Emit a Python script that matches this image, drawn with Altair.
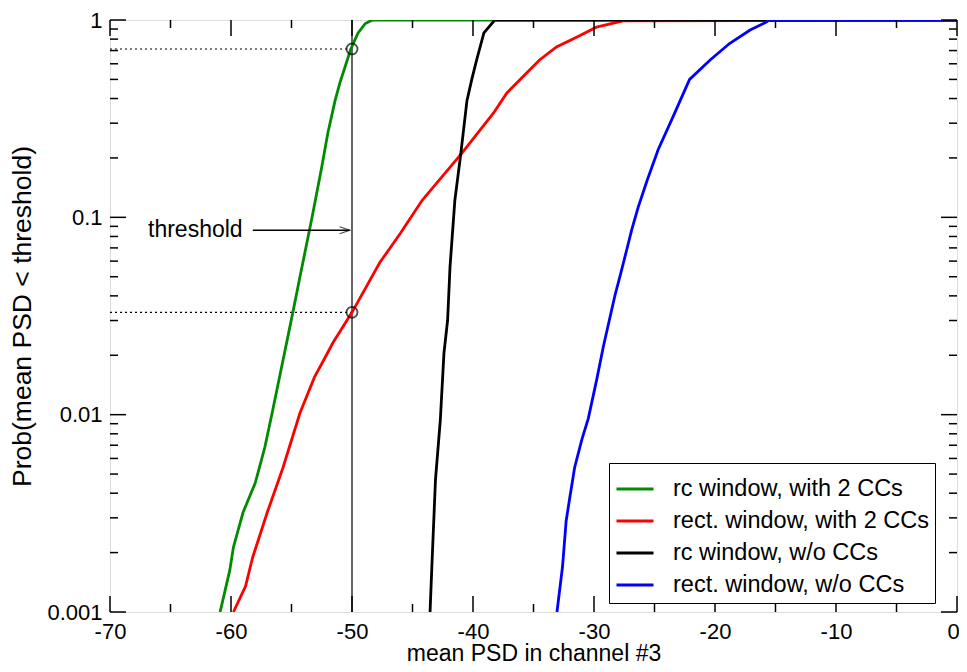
import altair as alt
import pandas as pd

# ---------------- data ----------------
series_names = ["rc window, with 2 CCs", "rect. window, with 2 CCs",
                "rc window, w/o CCs", "rect. window, w/o CCs"]
series_colors = ["#008b00", "#ff0000", "#000000", "#0000ff"]

green_x = [-60.9, -60.1, -59.8, -59.0, -58.0, -57.2, -56.6, -54.9, -54.3, -53.3,
           -52.5, -52.0, -51.4, -51.0, -50.1, -49.5, -48.9, -48.3, 0.0]
green_p = [0.001, 0.00163, 0.00213, 0.0032, 0.0045, 0.00685, 0.0102, 0.0327, 0.05, 0.1,
           0.18, 0.267, 0.39, 0.48, 0.713, 0.86, 0.96, 1.0, 1.0]

red_x = [-59.8, -58.8, -58.2, -57.0, -55.7, -54.3, -53.1, -52.2, -51.6, -50.0,
         -47.7, -46.0, -44.2, -43.3, -40.9, -38.3, -37.2, -35.9, -34.5, -33.1,
         -31.4, -29.8, -27.6, 0.0]
red_p = [0.001, 0.00135, 0.0019, 0.0032, 0.0054, 0.0102, 0.0155, 0.0196, 0.023, 0.033,
         0.059, 0.083, 0.122, 0.142, 0.212, 0.338, 0.427, 0.514, 0.627, 0.73,
         0.82, 0.92, 0.99, 1.0]

black_x = [-43.55, -43.4, -43.1, -42.7, -42.4, -42.1, -41.9, -41.5, -41.0, -40.5,
           -40.1, -39.7, -39.1, -38.2, 0.0]
black_p = [0.001, 0.0017, 0.0047, 0.0094, 0.0205, 0.030, 0.056, 0.122, 0.212, 0.39,
           0.50, 0.627, 0.86, 1.0, 1.0]

blue_x = [-33.06, -32.6, -32.3, -32.0, -31.6, -31.0, -30.47, -29.78, -29.23, -28.73,
          -28.26, -27.79, -27.30, -26.89, -26.34, -25.59, -24.7, -23.5, -22.1, -20.4,
          -18.8, -17.1, -15.7, -15.6, 0.0]
blue_p = [0.001, 0.0017, 0.0029, 0.0038, 0.0054, 0.0075, 0.00958, 0.0150, 0.0221, 0.0302,
          0.0404, 0.052, 0.0683, 0.0862, 0.113, 0.155, 0.22, 0.32, 0.50, 0.627,
          0.76, 0.89, 0.98, 1.0, 1.0]

threshold_x = -50.0
marker_p = [0.713, 0.033]          # crossing probabilities at the threshold
annot_text = ["threshold"]
annot_x = [-66.86]
annot_p = [0.086]
arrow_x = [-58.2, -50.2]

x_major = [-70, -60, -50, -40, -30, -20, -10, 0]
x_minor = [-65, -55, -45, -35, -25, -15, -5]
y_major = [0.001, 0.01, 0.1, 1]
y_minor = [m * d for d in (0.001, 0.01, 0.1) for m in range(2, 10)]

# ---------------- tables ----------------
rows = []
for name, xs, ps in zip(series_names, [green_x, red_x, black_x, blue_x],
                        [green_p, red_p, black_p, blue_p]):
    for x, p in zip(xs, ps):
        rows.append({"series": name, "x": x, "p": p})
df = pd.DataFrame(rows)

W, H = 847, 592
FONT = "Liberation Sans"

xscale = alt.Scale(domain=[-70, 0], nice=False, zero=False)
yscale = alt.Scale(type="log", domain=[0.001, 1], nice=False)
cscale = alt.Scale(domain=series_names, range=series_colors)

legend = alt.Legend(title=None, orient="none", legendX=499, legendY=443,
                    symbolType="stroke", symbolSize=1369, symbolStrokeWidth=3,
                    labelFontSize=23.5, labelFont=FONT, labelColor="black", labelLimit=500,
                    strokeColor="black", fillColor="white", padding=6,
                    rowPadding=-2, labelOffset=18)

xaxis = alt.Axis(values=x_major, labelExpr="'' + datum.value", ticks=False, tickSize=0,
                 domain=False, grid=False, labelFontSize=22, labelFont=FONT,
                 labelColor="black", labelPadding=9, labelFlush=False,
                 labelOffset={"expr": "datum.value == 0 ? -4 : 0"},
                 title="mean PSD in channel #3", titleFontSize=23, titleFont=FONT,
                 titleFontWeight="normal", titleColor="black", titlePadding=0)
yaxis = alt.Axis(values=y_major, labelExpr="'' + datum.value", ticks=False, tickSize=0,
                 domain=False, grid=False, labelFontSize=22, labelFont=FONT,
                 labelColor="black", labelPadding=8, labelFlush=False,
                 title="Prob(mean PSD < threshold)", titleFontSize=26.5, titleFont=FONT,
                 titleFontWeight="normal", titleColor="black", titlePadding=10)

layers = []
# threshold line
thr = pd.DataFrame({"x": [threshold_x], "p0": [0.001], "p1": [1.0]})
layers.append(alt.Chart(thr).mark_rule(color="black", strokeWidth=1.2).encode(
    x=alt.X("x:Q", scale=xscale, axis=xaxis),
    y=alt.Y("p0:Q", scale=yscale, axis=yaxis), y2="p1:Q"))
# dotted guide lines
dots = pd.DataFrame({"x0": [-70.0] * len(marker_p), "x1": [threshold_x] * len(marker_p),
                     "p": marker_p})
layers.append(alt.Chart(dots).mark_rule(color="black", strokeWidth=1.2,
                                        strokeDash=[2, 3]).encode(
    x=alt.X("x0:Q", scale=xscale), x2="x1:Q", y=alt.Y("p:Q", scale=yscale)))

# curves
for name in series_names:
    layers.append(alt.Chart(df).transform_filter(alt.datum.series == name)
                  .mark_line(strokeWidth=2.8, clip=True).encode(
        x=alt.X("x:Q", scale=xscale),
        y=alt.Y("p:Q", scale=yscale),
        color=alt.Color("series:N", scale=cscale, legend=legend),
        order="x:Q"))

# circles at crossing points
circ = pd.DataFrame({"x": [threshold_x] * len(marker_p), "p": marker_p})
layers.append(alt.Chart(circ).mark_point(shape="circle", filled=False, size=120,
                                         color="black", strokeWidth=1.8).encode(
    x=alt.X("x:Q", scale=xscale), y=alt.Y("p:Q", scale=yscale)))

# annotation text + arrow
ann = pd.DataFrame({"t": annot_text, "x": annot_x, "p": annot_p})
layers.append(alt.Chart(ann).mark_text(align="left", baseline="middle", fontSize=23,
                                       font=FONT, color="black").encode(
    x=alt.X("x:Q", scale=xscale), y=alt.Y("p:Q", scale=yscale), text="t:N"))
arr = pd.DataFrame({"x0": [arrow_x[0]], "x1": [arrow_x[1]], "p": annot_p})
layers.append(alt.Chart(arr).mark_rule(color="black", strokeWidth=1.3).encode(
    x=alt.X("x0:Q", scale=xscale), x2="x1:Q", y=alt.Y("p:Q", scale=yscale)))
head = pd.DataFrame({"x": [arrow_x[1]], "p": annot_p})
layers.append(alt.Chart(head).mark_point(shape="M-1,-0.35L0,0L-1,0.35", filled=False,
                                         size=400, color="black", strokeWidth=1.3).encode(
    x=alt.X("x:Q", scale=xscale), y=alt.Y("p:Q", scale=yscale)))

# inward ticks on all four sides
def xticks(vals, length):
    d = pd.DataFrame({"x": vals})
    b = alt.Chart(d).mark_rule(color="black", strokeWidth=1.5).encode(
        x=alt.X("x:Q", scale=xscale), y=alt.value(H), y2=alt.value(H - length))
    t = alt.Chart(d).mark_rule(color="black", strokeWidth=1.5).encode(
        x=alt.X("x:Q", scale=xscale), y=alt.value(0), y2=alt.value(length))
    return [b, t]

def yticks(vals, length):
    d = pd.DataFrame({"p": vals})
    l = alt.Chart(d).mark_rule(color="black", strokeWidth=1.5).encode(
        y=alt.Y("p:Q", scale=yscale), x=alt.value(0), x2=alt.value(length))
    r = alt.Chart(d).mark_rule(color="black", strokeWidth=1.5).encode(
        y=alt.Y("p:Q", scale=yscale), x=alt.value(W), x2=alt.value(W - length))
    return [l, r]

layers += xticks(x_major, 16) + xticks(x_minor, 8) + yticks(y_major, 16) + yticks(y_minor, 8)

chart = alt.layer(*layers).properties(
    width=W, height=H,
    autosize=alt.AutoSizeParams(type="none"),
    padding={"left": 102, "top": 12, "right": 2, "bottom": 52},
).configure_view(stroke="black", strokeWidth=1.6).configure(background="white")

chart.save("out.html", embed_options={"renderer": "svg", "actions": False})
